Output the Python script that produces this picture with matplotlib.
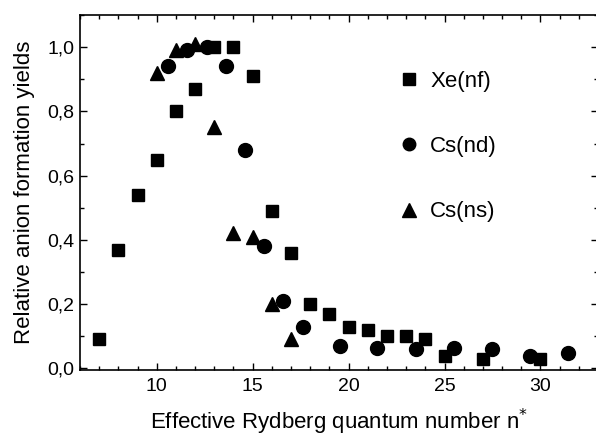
import matplotlib
matplotlib.use("Agg")
import matplotlib.pyplot as plt
from matplotlib.ticker import MultipleLocator, FuncFormatter

plt.rcParams['font.family'] = ['Liberation Sans', 'DejaVu Sans']

xe_n = [7, 8, 9, 10, 11, 12, 13, 14, 15, 16, 17, 18, 19, 20, 21, 22, 23, 24, 25, 27, 30]
xe_y = [0.09, 0.37, 0.54, 0.65, 0.80, 0.87, 1.00, 1.00, 0.91, 0.49, 0.36, 0.20, 0.17,
        0.13, 0.12, 0.10, 0.10, 0.09, 0.04, 0.03, 0.03]

csd_n = [10.6, 11.6, 12.6, 13.6, 14.6, 15.6, 16.6, 17.6, 19.55, 21.5, 23.5, 25.5, 27.5, 29.45, 31.45]
csd_y = [0.94, 0.99, 1.00, 0.94, 0.68, 0.38, 0.21, 0.13, 0.07, 0.065, 0.06, 0.065, 0.06, 0.04, 0.048]

css_n = [10, 11, 12, 13, 14, 15, 16, 17]
css_y = [0.92, 0.99, 1.01, 0.75, 0.42, 0.41, 0.20, 0.09]

fig = plt.figure(figsize=(5.96, 4.38), dpi=100)
ax = fig.add_axes([80/596, 1 - 370/438, 518/596, (370 - 15)/438])

ax.plot(xe_n, xe_y, 's', color='black', ms=9, label='Xe(nf)', zorder=3)
ax.plot(csd_n, csd_y, 'o', color='black', ms=10, label='Cs(nd)', zorder=3)
ax.plot(css_n, css_y, '^', color='black', ms=10.5, label='Cs(ns)', zorder=3)

ax.set_xlim(6, 33)
ax.set_ylim(-0.005, 1.1)
ax.xaxis.set_major_locator(MultipleLocator(5))
ax.xaxis.set_minor_locator(MultipleLocator(1))
ax.yaxis.set_major_locator(MultipleLocator(0.2))
ax.yaxis.set_minor_locator(MultipleLocator(0.1))
ax.yaxis.set_major_formatter(FuncFormatter(lambda v, p: f"{v:.1f}".replace('.', ',')))
ax.set_xticks([10, 15, 20, 25, 30])

ax.tick_params(which='both', direction='in', top=True, right=True, labelsize=14, colors='black')
ax.tick_params(which='major', length=5, width=1)
ax.tick_params(which='minor', length=3, width=1)
ax.tick_params(axis='x', pad=6)
ax.tick_params(axis='y', pad=4)
for s in ax.spines.values():
    s.set_linewidth(1.2)

ax.set_xlabel('Effective Rydberg quantum number n$^{*}$', fontsize=16, labelpad=8)
ax.set_ylabel('Relative anion formation yields', fontsize=16, labelpad=9)

leg = ax.legend(loc='upper left', bbox_to_anchor=(0.575, 0.90), frameon=False,
                fontsize=16, labelspacing=2.0, handletextpad=0.45, handlelength=1.0,
                markerscale=0.9)

fig.savefig('out.png', dpi=100)
